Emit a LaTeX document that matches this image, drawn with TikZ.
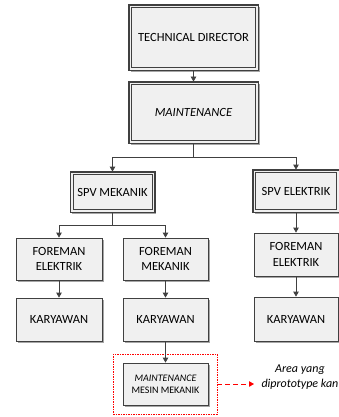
\documentclass[tikz,border=0pt]{standalone}
\usepackage{fontspec}
\setmainfont{Carlito}
\usetikzlibrary{arrows.meta}

\definecolor{boxline}{HTML}{404040}
\definecolor{boxfill}{HTML}{F0F0F0}

\tikzset{
    unit/.style={draw=boxline, fill=boxfill, line width=0.8pt, align=center,
        font=\fontsize{12.5}{15.5}\selectfont,
        preaction={draw=none, fill=black!35, transform canvas={xshift=1.6pt, yshift=-1.6pt}}},
    inner/.style={draw=boxline, line width=0.8pt},
    link/.style={draw=boxline, line width=0.8pt, -{Triangle[length=5pt,width=5.5pt]}},
}

\begin{document}
\begin{tikzpicture}[x=1pt, y=-1pt]
\useasboundingbox (0,0) rectangle (339,417);

% struktur atas
\node[unit, minimum width=129pt, minimum height=65pt] (td) at (193.5,37.5) {TECHNICAL DIRECTOR};
\node[unit, minimum width=129pt, minimum height=61pt] (mt) at (193.5,112.5) {\textit{MAINTENANCE}};
\node[unit, minimum width=84pt, minimum height=40pt] (spvm) at (112.5,192) {SPV MEKANIK};
\node[unit, minimum width=86pt, minimum height=42pt] (spve) at (296,191) {SPV ELEKTRIK};
% bingkai ganda
\foreach \n in {td,mt,spvm,spve}{
    \draw[inner] (\n.north west) rectangle (\n.south east);
    \draw[inner] ([xshift=2.8pt,yshift=-2.8pt]\n.north west) rectangle ([xshift=-2.8pt,yshift=2.8pt]\n.south east);
}

% foreman
\node[unit, minimum width=86pt, minimum height=42pt] (fe1) at (59,259) {FOREMAN\\ELEKTRIK};
\node[unit, minimum width=85pt, minimum height=42pt] (fm) at (165.5,259) {FOREMAN\\MEKANIK};
\node[unit, minimum width=84pt, minimum height=43pt] (fe2) at (296,254.5) {FOREMAN\\ELEKTRIK};

% karyawan
\node[unit, minimum width=86pt, minimum height=43pt] (k1) at (59,319.5) {KARYAWAN};
\node[unit, minimum width=85pt, minimum height=43pt] (k2) at (165.5,319.5) {KARYAWAN};
\node[unit, minimum width=84pt, minimum height=44pt] (k3) at (296,319) {KARYAWAN};

% area prototype
\node[unit, minimum width=85pt, minimum height=42pt, font=\fontsize{10}{12}\selectfont] (mm) at (165.5,384) {\textit{MAINTENANCE}\\MESIN MEKANIK};
\node[draw=red, dash pattern=on 1.5pt off 1pt, line width=0.7pt, minimum width=104pt, minimum height=60pt] (area) at (165,384) {};
\node[anchor=west, align=center, font=\fontsize{12}{15}\selectfont\itshape] (ket) at (258,377) {Area yang\\diprototype kan};

% garis
\coordinate (j1) at (193.5,157);
\coordinate (j2) at (112.5,225);
\coordinate (ujung) at (254,384);
\draw[link] (td) -- (mt);
\draw[link] (mt.south) -- (j1) -| (spvm.north);
\draw[link] (j1) -| (spve.north);
\draw[link] (spvm.south) -- (j2) -| (fe1.north);
\draw[link] (j2) -| (fm.north);
\draw[link] (spve) -- (fe2);
\draw[link] (fe1) -- (k1);
\draw[link] (fm) -- (k2);
\draw[link] (fe2) -- (k3);
\draw[link] (k2) -- (mm);
\draw[red, line width=0.8pt, dash pattern=on 5pt off 3pt, -{Triangle[length=5pt,width=5.5pt]}] (area.east) -- (ujung);
\end{tikzpicture}
\end{document}
